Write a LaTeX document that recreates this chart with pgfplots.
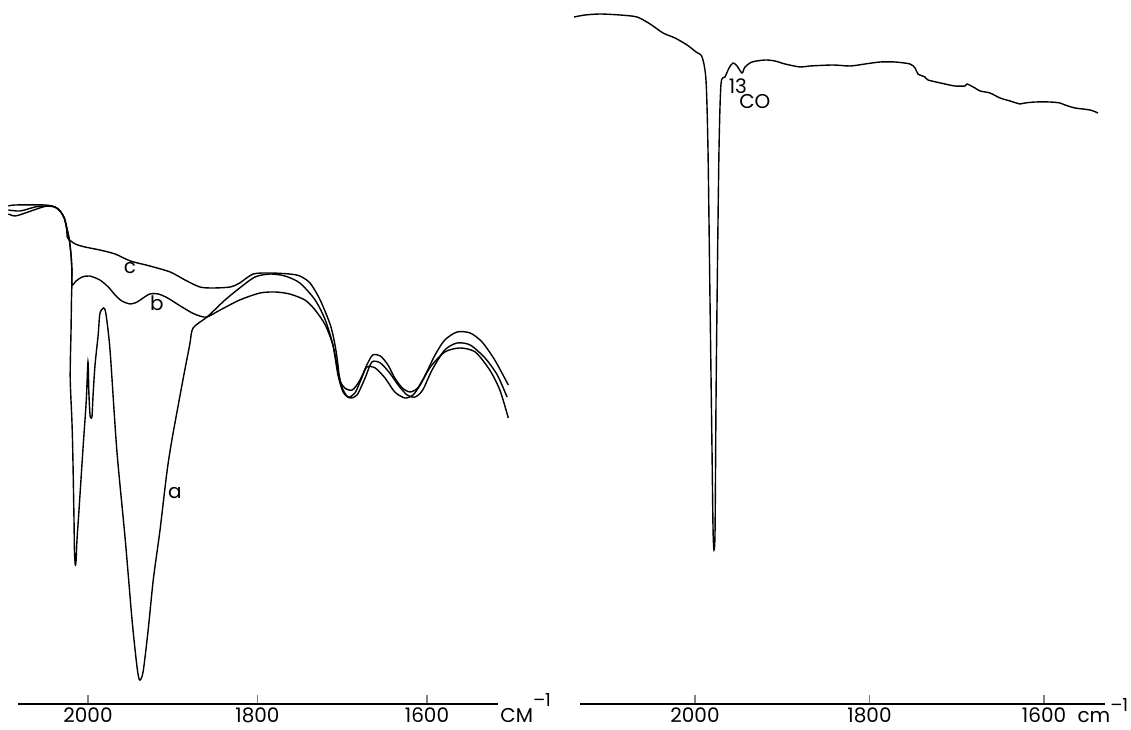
\documentclass[border=0pt]{standalone}
\usepackage{fontspec}
\setmainfont{Poppins}
\usepackage{pgfplots}
\pgfplotsset{compat=1.18}

% 1 px of the scan = 0.5pt; y values are heights above the base line
\pgfplotsset{
  spec/.style={
    scale only axis, height=352pt,
    ymin=0, ymax=704,
    x dir=reverse,
    axis x line*=bottom, axis y line=none,
    axis line style={line width=0.7pt},
    xtick={1600,1800,2000},
    xticklabels={1600,1800,2000},
    xtick align=inside,
    major tick length=4.5pt,
    major tick style={line width=0.7pt},
    xticklabel style={anchor=base, inner sep=0pt, yshift=-9.5pt, font=\fontsize{10}{12}\selectfont},
    clip=false,
  },
  trace/.style={black, line width=0.7pt, smooth, tension=0.45, mark=none},
}

\begin{document}
\begin{tikzpicture}
\useasboundingbox (0,0) rectangle (565.5pt,364.5pt);

% ---------------- left spectra a, b, c ----------------
\begin{axis}[spec, at={(9pt,12.5pt)}, anchor=south west, width=240pt,
  xmin=1516.2, xmax=2082.6]
% curve c
\addplot[trace] coordinates {
(2094,498) (2086,499) (2051,499) (2039,497) (2033,493) (2028,486) (2025,474)
(2024,466) (2015,460) (2003.5,457) (1986,454) (1968,450) (1950,443) (1927,438)
(1903,432) (1885.5,424) (1868,417) (1852.5,416) (1832,417) (1821,421) (1805,430)
(1785,431) (1762,430) (1750,428) (1738,421) (1726,404) (1714,379) (1708.5,359)
(1705,339) (1703,324) (1697,316) (1688,314) (1679,324) (1671,339) (1664,349)
(1655,348) (1646,339) (1638,326) (1629,316) (1620,312) (1611,316) (1602,329)
(1590.5,349) (1579,364) (1564.5,372) (1549,371) (1535,362) (1520,344) (1504,319)
};
% curve a
\addplot[trace] coordinates {
(2094,494) (2080,493) (2062.5,497) (2051,498) (2039,497) (2033,493) (2028,486)
(2025,476) (2022,464) (2020,449) (2019,434) (2019,419) (2019.5,404) (2020,374)
(2021,327) (2019,284) (2018,254) (2016.5,184) (2016,154) (2015,139) (2014,144)
(2013,164) (2010.6,194) (2006,254) (2002,304) (2000,342) (1999,312) (1997.6,289)
(1996.4,286) (1995.2,288) (1994,309) (1991.7,339) (1988,369) (1986,390) (1982,396)
(1979,391) (1974,354) (1966,254) (1956,164) (1948,84) (1942,36) (1939,24)
(1935,32) (1929,74) (1923,124) (1915,174) (1907,231) (1901,264) (1888,324)
(1880,359) (1876,376) (1859.5,387) (1838.3,404) (1821,416) (1803,427) (1785,430)
(1767.5,428) (1750,421) (1732,404) (1720,384) (1711,359) (1705,329) (1699,312)
(1691,306) (1682.5,309) (1673,326) (1665,342) (1655,341) (1644,331) (1634,319)
(1623.5,309) (1614,307) (1605,314) (1594,334) (1579,354) (1564.5,361) (1549,359)
(1531.5,346) (1517,329) (1505.5,307)
};
% curve b
\addplot[trace] coordinates {
(2094,490) (2086,488) (2074,491) (2057,496) (2048,498) (2039,497) (2033,493)
(2028,486) (2025,476) (2022,464) (2020,449) (2019,434) (2019,419) (2014,423)
(2007,427) (1998,428) (1986,424) (1976,417) (1968,409) (1960,403) (1950,400)
(1942,402) (1935,406) (1927,410) (1917,410) (1906,406) (1891,398) (1877,391)
(1868,388) (1859.5,387) (1844,394) (1821,404) (1797,411) (1779,412) (1762,410)
(1744,404) (1732,394) (1720,379) (1711,359) (1705,334) (1700,316) (1693,307)
(1685,311) (1677,326) (1671,337) (1661,336) (1649.5,326) (1638,312) (1626,306)
(1616.5,309) (1608,319) (1596,337) (1579,352) (1561,356) (1543,352) (1526,334)
(1514,314) (1504,286)
};
\node[font=\fontsize{10}{12}\selectfont] at (axis cs:1950.4,436) {c};
\node[font=\fontsize{10}{12}\selectfont] at (axis cs:1918.8,401) {b};
\node[font=\fontsize{10}{12}\selectfont] at (axis cs:1897.6,211) {a};
\node[anchor=base west, inner sep=0pt, yshift=-9.5pt, xshift=1pt,
  font=\fontsize{10}{12}\selectfont] at (rel axis cs:1,0)
  {CM\raisebox{8.5pt}{\fontsize{9}{10}\selectfont –1}};
\end{axis}

% ---------------- right spectrum ----------------
\begin{axis}[spec, at={(290pt,12.5pt)}, anchor=south west, width=262.5pt,
  xmin=1530.1, xmax=2131.8]
\addplot[trace] coordinates {
(2138.6,687) (2126.0,689) (2108.8,690) (2085.9,689) (2066.4,687) (2051.5,680)
(2036.6,671) (2022.9,666) (2009.1,659) (1998.8,652) (1991.9,647) (1987.4,624)
(1985.1,554) (1982.8,404) (1980.5,254) (1979.3,174) (1978.2,154) (1977.0,174)
(1975.9,304) (1974.7,404) (1972.5,554) (1970.2,620) (1965.6,627) (1961.0,636)
(1956.4,641) (1951.8,638) (1946.1,631) (1942.7,637) (1934.6,642) (1919.7,644)
(1908.3,643) (1896.8,640) (1879.6,637) (1868.2,638) (1841.8,639) (1822.3,638)
(1805.1,640) (1787.9,642) (1770.7,642) (1753.5,640) (1747.8,636) (1744.4,630)
(1736.4,627) (1732.9,624) (1713.4,620) (1702.0,618) (1690.5,618) (1688.2,620)
(1679.1,616) (1673.3,613) (1661.9,611) (1650.4,606) (1638.9,603) (1627.5,600)
(1621.7,601) (1610.3,602) (1593.1,602) (1581.6,601) (1575.9,599) (1564.4,596)
(1547.2,594) (1538.1,591)
};
\node[font=\fontsize{10}{12}\selectfont] at (axis cs:1950.9,618) {13};
\node[font=\fontsize{10}{12}\selectfont] at (axis cs:1931.4,602) {CO};
\node[anchor=base west, inner sep=0pt, yshift=-9.5pt,
  font=\fontsize{10}{12}\selectfont] at (axis cs:1562,0)
  {cm\raisebox{6pt}{\fontsize{9}{10}\selectfont –1}};
\end{axis}
\end{tikzpicture}
\end{document}
